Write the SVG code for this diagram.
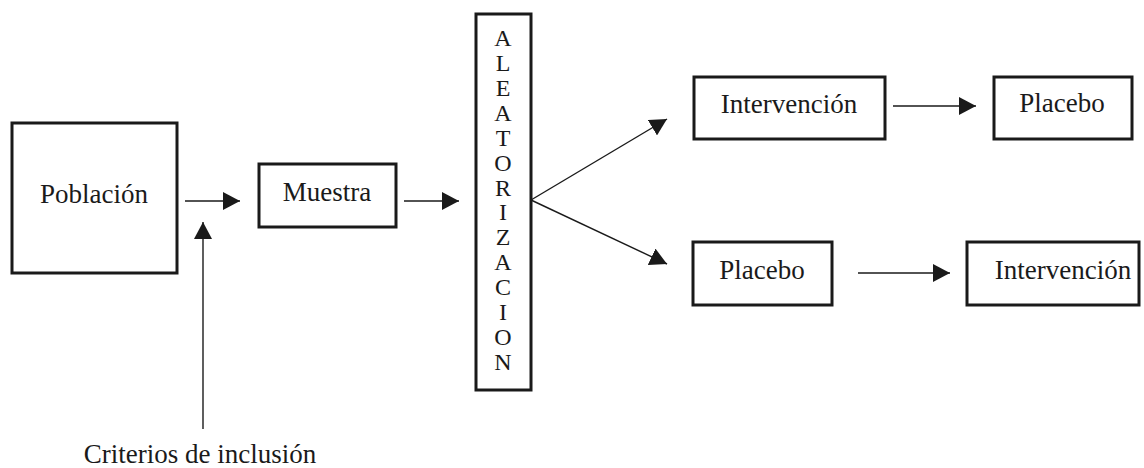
<svg xmlns="http://www.w3.org/2000/svg" width="1144" height="468" viewBox="0 0 1144 468">
<style>
.box{fill:#fff;stroke:#1a1a1a;stroke-width:3}
.t{font-family:"Liberation Serif","Times New Roman",serif;font-size:27px;fill:#1a1a1a;text-anchor:middle}
.v{font-family:"Liberation Serif","Times New Roman",serif;font-size:24px;fill:#1a1a1a;text-anchor:middle}
.c{stroke:#1a1a1a;stroke-width:1.4;fill:none;marker-end:url(#ah)}
</style>
<defs>
<marker id="ah" markerUnits="userSpaceOnUse" markerWidth="17" markerHeight="18" refX="17" refY="9" orient="auto">
<path d="M0,0 L17,9 L0,18 Z" fill="#1a1a1a"/>
</marker>
</defs>
<rect width="1144" height="468" fill="#fff"/>
<g id="connectors">
<line class="c" x1="185" y1="201" x2="240" y2="201"/>
<line class="c" x1="203" y1="429" x2="203" y2="222"/>
<line class="c" x1="404" y1="201" x2="459" y2="201"/>
<line class="c" x1="531" y1="200" x2="667" y2="119"/>
<line class="c" x1="531" y1="200" x2="667" y2="264"/>
<line class="c" x1="893" y1="106" x2="976" y2="106"/>
<line class="c" x1="858" y1="273" x2="950" y2="273"/>
</g>
<g id="poblacion">
<rect class="box" x="12" y="123" width="165" height="150"/>
<text class="t" x="94" y="203">Población</text>
</g>
<g id="muestra">
<rect class="box" x="259" y="164" width="137" height="63"/>
<text class="t" x="327" y="201">Muestra</text>
</g>
<g id="aleatorizacion">
<rect class="box" x="476" y="14" width="55" height="376"/>
<text class="v" x="503" y="46">A</text>
<text class="v" x="503" y="71">L</text>
<text class="v" x="503" y="96">E</text>
<text class="v" x="503" y="121">A</text>
<text class="v" x="503" y="146">T</text>
<text class="v" x="503" y="171">O</text>
<text class="v" x="503" y="196">R</text>
<text class="v" x="503" y="220">I</text>
<text class="v" x="503" y="245">Z</text>
<text class="v" x="503" y="270">A</text>
<text class="v" x="503" y="295">C</text>
<text class="v" x="503" y="320">I</text>
<text class="v" x="503" y="345">O</text>
<text class="v" x="503" y="370">N</text>
</g>
<g id="intervencion1">
<rect class="box" x="694" y="77" width="191" height="62"/>
<text class="t" x="789" y="113">Intervención</text>
</g>
<g id="placebo1">
<rect class="box" x="994" y="77" width="138" height="62"/>
<text class="t" x="1062" y="112">Placebo</text>
</g>
<g id="placebo2">
<rect class="box" x="693" y="242" width="139" height="63"/>
<text class="t" x="762" y="279">Placebo</text>
</g>
<g id="intervencion2">
<rect class="box" x="967" y="242" width="172" height="63"/>
<text class="t" x="1063" y="279">Intervención</text>
</g>
<g id="criterios">
<text class="t" x="200" y="463">Criterios de inclusión</text>
</g>
</svg>
